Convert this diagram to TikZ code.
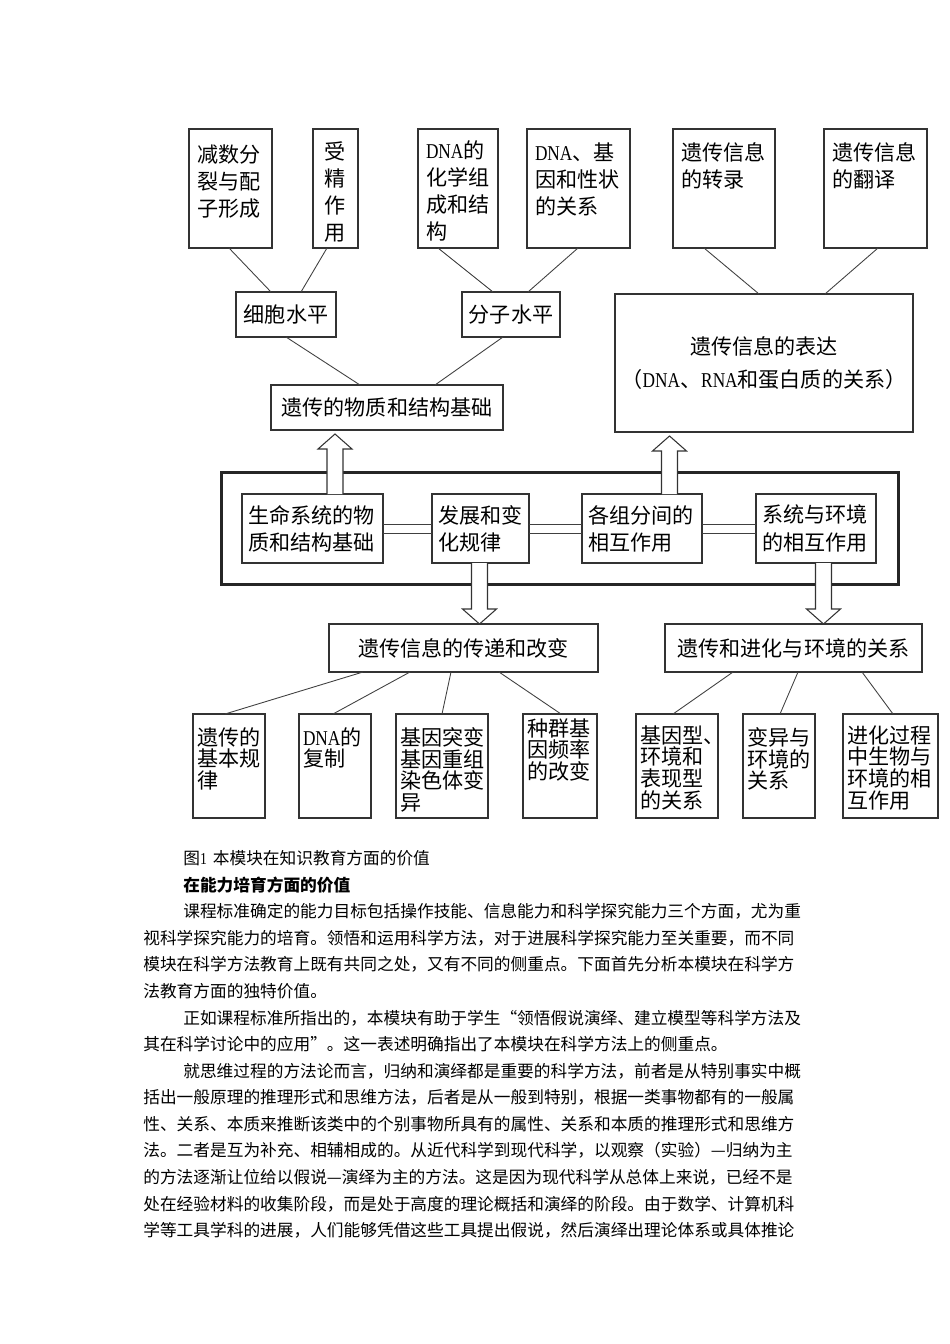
\documentclass[tikz,border=0pt]{standalone}
\usepackage{fontspec}
\setmainfont{Noto Sans CJK SC}
\newfontfamily\lat[FakeStretch=0.82]{Liberation Serif}
\usepackage{tikz}
\usetikzlibrary{calc}
\newlength{\px}
\setlength{\px}{0.2mm}
% height, width, top gap, text
\newcommand{\cell}[4]{\parbox[c][#1\px][t]{#2\px}{\raggedright\vspace*{#3\px}#4}}
\tikzset{box/.style = {draw=black!80, line width=0.6pt, inner xsep=8\px, inner ysep=0pt,
                       outer sep=0pt, anchor=north west, font=\fontsize{12}{15.4}\selectfont}}
\tikzset{bbox/.style = {box, inner xsep=4\px, font=\fontsize{12}{12.3}\selectfont}}
\tikzset{mid/.style = {draw=black!80, line width=0.6pt, inner xsep=6.5\px, inner ysep=0pt,
                       outer sep=0pt, anchor=north west, minimum height=69\px, align=left,
                       font=\fontsize{12}{15.4}\selectfont}}
\tikzset{cbox/.style = {draw=black!80, line width=0.6pt, inner sep=0pt, outer sep=0pt,
                        anchor=north west, align=center, font=\fontsize{12}{15.4}\selectfont}}
\tikzset{frame/.style = {draw=black!85, line width=1.7pt, inner sep=0pt, anchor=north west,
                         minimum width=677\px, minimum height=112\px}}
\tikzset{wire/.style = {draw=black!75, line width=0.5pt}}
\tikzset{pair/.style = {draw=black!75, line width=0.5pt,
  to path={([yshift=0.9mm]\tikztostart) -- ([yshift=0.9mm]\tikztotarget)
           ([yshift=-0.9mm]\tikztostart) -- ([yshift=-0.9mm]\tikztotarget)}}}
\tikzset{nudge/.style = {shift={(#1,0)}}}
\tikzset{hollow/.style = {draw=black!80, line width=0.6pt, fill=white,
  to path={let \p1=(\tikztostart), \p2=(\tikztotarget) in
    (\x1-1.6mm,\y1) -- (\x1-1.6mm,\y2#1) -- (\x1-3.4mm,\y2#1) -- (\x1,\y2)
    -- (\x1+3.4mm,\y2#1) -- (\x1+1.6mm,\y2#1) -- (\x1+1.6mm,\y1)}}}
\tikzset{para/.style = {anchor=north west, inner sep=0pt, align=left,
                        font=\fontsize{9.5}{15.13}\selectfont}}

\begin{document}
\begin{tikzpicture}[x=0.2mm, y=-0.2mm]
    \useasboundingbox (0,0) rectangle (950,1344);
    % top row
    \node[box] (jianshu) at (189,129) {\cell{119}{67}{16}{减数分\\裂与配\\子形成}};
    \node[box] (shoujing) at (313,129) {\cell{119}{29}{13}{\centering 受\\精\\作\\用}};
    \node[box] (dnahx) at (418,129) {\cell{119}{64}{12}{{\lat DNA}的\\化学组\\成和结\\构}};
    \node[box] (dnajy) at (527,129) {\cell{119}{87}{14}{{\lat DNA}、基\\因和性状\\的关系}};
    \node[box] (zhuanlu) at (673,129) {\cell{119}{86}{14}{遗传信息\\的转录}};
    \node[box] (fanyi) at (824,129) {\cell{119}{87}{14}{遗传信息\\的翻译}};
    \node[cbox, minimum width=100\px, minimum height=45\px] (xibao) at (236,292) {细胞水平};
    \node[cbox, minimum width=98\px, minimum height=45\px] (fenzi) at (462,292) {分子水平};
    \node[cbox, minimum width=232\px, minimum height=45\px] (wuzhi) at (271,385) {遗传的物质和结构基础};
    \node[cbox, minimum width=298\px, minimum height=138\px, font=\fontsize{12}{18.8}\selectfont]
        (biaoda) at (615,294) {遗传信息的表达\\（{\lat DNA}、{\lat RNA}和蛋白质的关系）};
    % middle frame
    \node[frame] (frame) at (220,471) {};
    \node[mid, text width=128\px] (shengming) at (242,494) {生命系统的物\\质和结构基础};
    \node[mid, text width=84\px] (fazhan) at (432,494) {发展和变\\化规律};
    \node[mid, text width=107\px] (gezu) at (582,494) {各组分间的\\相互作用};
    \node[mid, text width=107\px] (xitong) at (756,494) {系统与环境\\的相互作用};
    \draw[pair] (shengming.east) to (fazhan.west);
    \draw[pair] (fazhan.east) to (gezu.west);
    \draw[pair] (gezu.east) to (xitong.west);
    % bottom row
    \node[cbox, minimum width=269\px, minimum height=48\px] (chuandi) at (329,624) {遗传信息的传递和改变};
    \node[cbox, minimum width=257\px, minimum height=48\px] (huanjing) at (665,624) {遗传和进化与环境的关系};
    \node[bbox] (guilv) at (193,714) {\cell{104}{64}{13.5}{遗传的\\基本规\\律}};
    \node[bbox] (fuzhi) at (299,714) {\cell{104}{64}{13.5}{{\lat DNA}的\\复制}};
    \node[bbox] (tubian) at (396,714) {\cell{104}{84}{13.5}{基因突变\\基因重组\\染色体变\\异}};
    \node[bbox] (zhongqun) at (523,714) {\cell{104}{66}{4.5}{种群基\\因频率\\的改变}};
    \node[bbox] (jiyinxing) at (636,714) {\cell{104}{74}{11.5}{基因型、\\环境和\\表现型\\的关系}};
    \node[bbox] (bianyi) at (743,714) {\cell{104}{64}{13.5}{变异与\\环境的\\关系}};
    \node[bbox] (jinhua) at (843,714) {\cell{104}{87}{11.5}{进化过程\\中生物与\\环境的相\\互作用}};
    % connectors
    \draw[wire] ([nudge=40]jianshu.south west) -- ([nudge=35]xibao.north west);
    \draw[wire] ([nudge=14]shoujing.south west) -- ([nudge=65]xibao.north west);
    \draw[wire] ([nudge=20]dnahx.south west) -- ([nudge=31]fenzi.north west);
    \draw[wire] ([nudge=51]dnajy.south west) -- ([nudge=66]fenzi.north west);
    \draw[wire] ([nudge=50]xibao.south west) -- ([nudge=89]wuzhi.north west);
    \draw[wire] ([nudge=41]fenzi.south west) -- ([nudge=164]wuzhi.north west);
    \draw[wire] ([nudge=31]zhuanlu.south west) -- ([nudge=144]biaoda.north west);
    \draw[wire] ([nudge=54]fanyi.south west) -- ([nudge=210]biaoda.north west);
    \draw[wire] ([nudge=34]chuandi.south west) -- ([nudge=32]guilv.north west);
    \draw[wire] ([nudge=81]chuandi.south west) -- ([nudge=34]fuzhi.north west);
    \draw[wire] ([nudge=122]chuandi.south west) -- ([nudge=46]tubian.north west);
    \draw[wire] ([nudge=170]chuandi.south west) -- ([nudge=38]zhongqun.north west);
    \draw[wire] ([nudge=68]huanjing.south west) -- ([nudge=37]jiyinxing.north west);
    \draw[wire] ([nudge=133]huanjing.south west) -- ([nudge=37]bianyi.north west);
    \draw[wire] ([nudge=197]huanjing.south west) -- ([nudge=50]jinhua.north west);
    % block arrows
    \draw[hollow=-3mm] ([nudge=93]shengming.north west) to ([yshift=-0.8mm]wuzhi.south);
    \draw[hollow=-3mm] ([nudge=87.5]gezu.north west) to ([yshift=-0.8mm]biaoda.south);
    \draw[hollow=+3mm] ([nudge=47.5]fazhan.south west) to (chuandi.north);
    \draw[hollow=+3mm] ([nudge=67.5]xitong.south west) to (huanjing.north);
    % caption and text
    \node[para] (text) at (143,850) {%
\hspace*{40\px}图{\lat 1}\hspace{6\px}本模块在知识教育方面的价值\\
\hspace*{40\px}{\bfseries 在能力培育方面的价值}\\
\hspace*{40\px}课程标准确定的能力目标包括操作技能、信息能力和科学探究能力三个方面，尤为重\\
视科学探究能力的培育。领悟和运用科学方法，对于进展科学探究能力至关重要，而不同\\
模块在科学方法教育上既有共同之处，又有不同的侧重点。下面首先分析本模块在科学方\\
法教育方面的独特价值。\\
\hspace*{40\px}正如课程标准所指出的，本模块有助于学生“领悟假说演绎、建立模型等科学方法及\\
其在科学讨论中的应用”。这一表述明确指出了本模块在科学方法上的侧重点。\\
\hspace*{40\px}就思维过程的方法论而言，归纳和演绎都是重要的科学方法，前者是从特别事实中概\\
括出一般原理的推理形式和思维方法，后者是从一般到特别，根据一类事物都有的一般属\\
性、关系、本质来推断该类中的个别事物所具有的属性、关系和本质的推理形式和思维方\\
法。二者是互为补充、相辅相成的。从近代科学到现代科学，以观察（实验）—归纳为主\\
的方法逐渐让位给以假说—演绎为主的方法。这是因为现代科学从总体上来说，已经不是\\
处在经验材料的收集阶段，而是处于高度的理论概括和演绎的阶段。由于数学、计算机科\\
学等工具学科的进展，人们能够凭借这些工具提出假说，然后演绎出理论体系或具体推论};
\end{tikzpicture}
\end{document}
